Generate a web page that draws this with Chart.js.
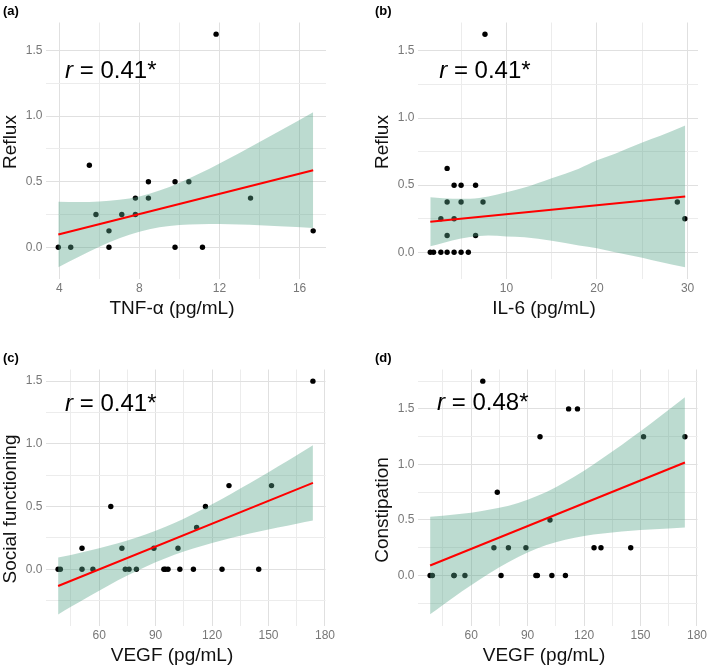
<!DOCTYPE html>
<html>
<head>
<meta charset="utf-8">
<script src="https://cdn.jsdelivr.net/npm/chart.js@4.4.0/dist/chart.umd.min.js"></script>
<style>
  body { margin: 0; background: #fff; }
  #wrap { position: relative; width: 709px; height: 672px; }
  canvas { position: absolute; }
</style>
</head>
<body>
<div id="wrap">
  <canvas id="panelA" width="337" height="325" style="left:0;top:0"></canvas>
  <canvas id="panelB" width="337" height="325" style="left:372px;top:0"></canvas>
  <canvas id="panelC" width="337" height="325" style="left:0;top:347px"></canvas>
  <canvas id="panelD" width="337" height="325" style="left:372px;top:347px"></canvas>
</div>
<script>
// (a) TNF-a vs reflux
const tnfAlpha = [3.95, 4.57, 5.5, 5.83, 6.48, 6.48, 7.12, 7.8, 7.8, 8.45, 8.45, 9.78, 9.78, 10.47, 11.15, 11.83, 13.55, 16.68];
const refluxA = [0, 0, 0.625, 0.25, 0.125, 0, 0.25, 0.375, 0.25, 0.5, 0.375, 0.5, 0, 0.5, 0, 1.625, 0.375, 0.125];
const fitAx = [3.95, 16.68];
const fitAy = [0.097, 0.588];
const bandAx = [3.95, 5, 6, 7, 8, 9, 10, 11, 12, 13, 14, 15, 16.68];
const bandAlow = [-0.153, -0.071, 0.003, 0.068, 0.118, 0.152, 0.170, 0.176, 0.177, 0.173, 0.168, 0.160, 0.147];
const bandAup = [0.347, 0.345, 0.349, 0.362, 0.388, 0.432, 0.492, 0.562, 0.639, 0.719, 0.802, 0.886, 1.029];

// (b) IL-6 vs reflux
const il6 = [1.6, 1.96, 2.77, 2.77, 3.46, 3.46, 3.46, 3.46, 4.23, 4.23, 4.23, 5.0, 5.0, 5.0, 5.8, 6.6, 6.6, 7.42, 7.64, 28.87, 29.7];
const refluxB = [0, 0, 0, 0.25, 0, 0.125, 0.375, 0.625, 0, 0.25, 0.5, 0, 0.375, 0.5, 0, 0.5, 0.125, 0.375, 1.625, 0.375, 0.25];
const fitBx = [1.6, 29.74];
const fitBy = [0.227, 0.416];
const bandBx = [1.6, 3, 4, 5, 6, 7, 8, 10, 12, 15, 18, 20, 22, 25, 27, 29.74];
const bandBlow = [0.045, 0.070, 0.088, 0.102, 0.113, 0.121, 0.125, 0.118, 0.112, 0.086, 0.051, 0.030, 0.000, -0.040, -0.072, -0.112];
const bandBup = [0.410, 0.402, 0.398, 0.398, 0.399, 0.405, 0.415, 0.448, 0.482, 0.552, 0.623, 0.685, 0.735, 0.818, 0.868, 0.944];

// (c) and (d) VEGF
const vegf = [38.2, 39.4, 50.9, 50.9, 56.7, 66.2, 72.1, 73.9, 75.9, 79.8, 89.1, 94.4, 95.2, 96.6, 101.9, 102.9, 110.1, 111.8, 116.5, 125.3, 129.0, 144.8, 151.6, 173.6];
const socialFunctioning = [0, 0, 0.167, 0, 0, 0.5, 0.167, 0, 0, 0, 0.167, 0, 0, 0, 0.167, 0, 0, 0.333, 0.5, 0, 0.667, 0, 0.667, 1.5];
const constipation = [0, 0, 0, 0, 0, 1.75, 0.25, 0.75, 0, 0.25, 0.25, 0, 0, 1.25, 0.5, 0, 0, 1.5, 1.5, 0.25, 0.25, 0.25, 1.25, 1.25];
const fitVx = [38.2, 173.6];
const fitCy = [-0.134, 0.689];
const fitDy = [0.090, 1.017];
const bandVx = [38.2, 45, 55, 65, 75, 85, 95, 105, 115, 125, 135, 145, 155, 165, 173.6];
const bandClow = [-0.361, -0.300, -0.213, -0.130, -0.051, 0.022, 0.086, 0.141, 0.188, 0.229, 0.266, 0.300, 0.332, 0.363, 0.388];
const bandCup = [0.093, 0.114, 0.149, 0.187, 0.229, 0.278, 0.336, 0.403, 0.478, 0.558, 0.643, 0.730, 0.820, 0.910, 0.988];
const bandDlow = [-0.350, -0.266, -0.145, -0.031, 0.075, 0.167, 0.243, 0.299, 0.339, 0.368, 0.388, 0.403, 0.415, 0.424, 0.431];
const bandDup = [0.530, 0.539, 0.555, 0.578, 0.609, 0.653, 0.715, 0.795, 0.892, 1.000, 1.116, 1.239, 1.363, 1.492, 1.605];

// tick labels
const yMajor = [0, 0.5, 1, 1.5];
const xMajorA = [4, 8, 12, 16], xMinorA = [6, 10, 14];
const xMajorB = [10, 20, 30], xMinorB = [5, 15, 25];
const xMajorV = [60, 90, 120, 150, 180], xMinorV = [45, 75, 105, 135, 165];

const FONT = '"Liberation Sans", Arial, sans-serif';

const toPts = (xs, ys) => xs.map((x, i) => ({ x: x, y: ys[i] }));

const tickList = (major, minor) => major.concat(minor).sort((a, b) => a - b).map(v => ({ value: v }));

const panelText = {
  id: 'panelText',
  afterDraw(chart, args, o) {
    const ctx = chart.ctx;
    ctx.save();
    ctx.fillStyle = '#000';
    ctx.textBaseline = 'middle';
    ctx.textAlign = 'left';
    ctx.font = 'bold 13px ' + FONT;
    ctx.fillText(o.letter, 3, 11);

    ctx.font = '19px ' + FONT;
    ctx.fillStyle = '#111';
    ctx.textAlign = 'center';
    ctx.fillText(o.xTitle, 172, 309);
    ctx.save();
    ctx.translate(11, o.yTitleY);
    ctx.rotate(-Math.PI / 2);
    ctx.fillText(o.yTitle, 0, 0);
    ctx.restore();

    // correlation label
    const px = chart.scales.x.getPixelForValue(o.rAt[0]);
    const py = chart.scales.y.getPixelForValue(o.rAt[1]);
    ctx.fillStyle = '#000';
    ctx.textAlign = 'left';
    ctx.textBaseline = 'alphabetic';
    ctx.font = 'italic 24px ' + FONT;
    ctx.fillText('r', px, py);
    const w = ctx.measureText('r').width;
    ctx.font = '24px ' + FONT;
    ctx.fillText(' = ' + o.r + '*', px + w, py);
    ctx.restore();
  }
};

const makePanel = (id, p) => {
  const yMinor = p.yMinor;
  new Chart(document.getElementById(id), {
    type: 'scatter',
    data: {
      datasets: [
        {
          type: 'line',
          data: toPts(p.fitX, p.fitY),
          borderColor: '#ff0000',
          borderWidth: 2,
          pointRadius: 0,
          order: 0
        },
        {
          type: 'line',
          data: toPts(p.bandX, p.bandLow),
          borderWidth: 0,
          pointRadius: 0,
          cubicInterpolationMode: 'monotone',
          fill: false,
          order: 2
        },
        {
          type: 'line',
          data: toPts(p.bandX, p.bandUp),
          borderWidth: 0,
          pointRadius: 0,
          cubicInterpolationMode: 'monotone',
          backgroundColor: 'rgba(88,165,138,0.4)',
          fill: '-1',
          order: 1
        },
        {
          data: toPts(p.x, p.y),
          backgroundColor: '#000',
          borderWidth: 0,
          pointRadius: 2.7,
          order: 3
        }
      ]
    },
    options: {
      responsive: false,
      animation: false,
      devicePixelRatio: 1,
      events: [],
      layout: { padding: { left: 0, right: 11, top: 22.5, bottom: 0 } },
      plugins: {
        legend: { display: false },
        tooltip: { enabled: false },
        panelText: p.text
      },
      scales: {
        x: {
          type: 'linear',
          min: p.xRange[0],
          max: p.xRange[1],
          afterBuildTicks: s => { s.ticks = tickList(p.xMajor, p.xMinor); },
          afterFit: s => { s.height = 46; },
          border: { display: false },
          grid: {
            drawTicks: false,
            color: c => (c.tick && p.xMajor.includes(c.tick.value)) ? '#e0e0e0' : '#ececec',
            lineWidth: 1
          },
          ticks: {
            autoSkip: false,
            maxRotation: 0,
            padding: 2,
            color: '#777',
            font: { family: FONT, size: 12 },
            callback: v => p.xMajor.includes(v) ? String(v) : ''
          }
        },
        y: {
          type: 'linear',
          min: p.yRange[0],
          max: p.yRange[1],
          afterBuildTicks: s => { s.ticks = tickList(yMajor, yMinor); },
          afterFit: s => { s.width = 45.5; },
          border: { display: false },
          grid: {
            drawTicks: false,
            color: c => (c.tick && yMajor.includes(c.tick.value)) ? '#e0e0e0' : '#ececec',
            lineWidth: 1
          },
          ticks: {
            autoSkip: false,
            padding: 3,
            color: '#777',
            font: { family: FONT, size: 12 },
            callback: v => yMajor.includes(v) ? v.toFixed(1) : ''
          }
        }
      }
    },
    plugins: [panelText]
  });
};

makePanel('panelA', {
  x: tnfAlpha, y: refluxA, fitX: fitAx, fitY: fitAy,
  bandX: bandAx, bandLow: bandAlow, bandUp: bandAup,
  xRange: [3.31, 17.32], yRange: [-0.242, 1.714],
  xMajor: xMajorA, xMinor: xMinorA, yMinor: [0.25, 0.75, 1.25],
  text: { letter: '(a)', xTitle: 'TNF-α (pg/mL)', yTitle: 'Reflux', yTitleY: 142, rAt: [4.29, 1.29], r: '0.41' }
});

makePanel('panelB', {
  x: il6, y: refluxB, fitX: fitBx, fitY: fitBy,
  bandX: bandBx, bandLow: bandBlow, bandUp: bandBup,
  xRange: [0.19, 31.15], yRange: [-0.199, 1.712],
  xMajor: xMajorB, xMinor: xMinorB, yMinor: [0.25, 0.75, 1.25],
  text: { letter: '(b)', xTitle: 'IL-6 (pg/mL)', yTitle: 'Reflux', yTitleY: 142, rAt: [2.59, 1.30], r: '0.41' }
});

makePanel('panelC', {
  x: vegf, y: socialFunctioning, fitX: fitVx, fitY: fitCy,
  bandX: bandVx, bandLow: bandClow, bandUp: bandCup,
  xRange: [31.5, 180.3], yRange: [-0.453, 1.593],
  xMajor: xMajorV, xMinor: xMinorV, yMinor: [-0.25, 0.25, 0.75, 1.25],
  text: { letter: '(c)', xTitle: 'VEGF (pg/mL)', yTitle: 'Social functioning', yTitleY: 162, rAt: [41.9, 1.26], r: '0.41' }
});

makePanel('panelD', {
  x: vegf, y: constipation, fitX: fitVx, fitY: fitDy,
  bandX: bandVx, bandLow: bandDlow, bandUp: bandDup,
  xRange: [31.5, 180.3], yRange: [-0.455, 1.855],
  xMajor: xMajorV, xMinor: xMinorV, yMinor: [-0.25, 0.25, 0.75, 1.25, 1.75],
  text: { letter: '(d)', xTitle: 'VEGF (pg/mL)', yTitle: 'Constipation', yTitleY: 163, rAt: [41.9, 1.49], r: '0.48' }
});
</script>
</body>
</html>
